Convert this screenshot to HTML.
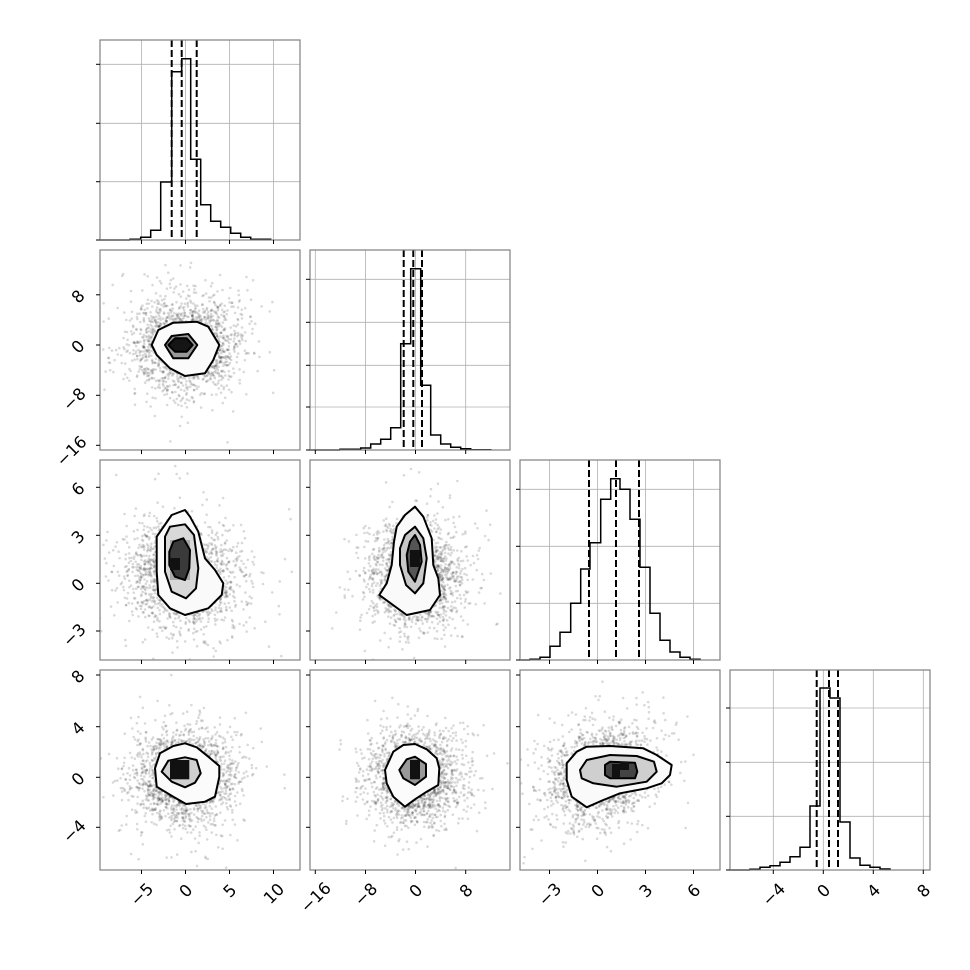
<!DOCTYPE html>
<html><head><meta charset="utf-8"><style>
html,body{margin:0;padding:0;background:#fff;}
svg{display:block;}
text{font-family:"DejaVu Sans","Liberation Sans",sans-serif;font-size:16.5px;fill:#000;}
</style></head><body>
<svg id="s" width="970" height="970" viewBox="0 0 970 970" xmlns="http://www.w3.org/2000/svg">
<defs>
<clipPath id="c10"><rect x="100" y="250" width="200" height="200"/></clipPath>
<clipPath id="c20"><rect x="100" y="460" width="200" height="200"/></clipPath>
<clipPath id="c21"><rect x="310" y="460" width="200" height="200"/></clipPath>
<clipPath id="c30"><rect x="100" y="670" width="200" height="200"/></clipPath>
<clipPath id="c31"><rect x="310" y="670" width="200" height="200"/></clipPath>
<clipPath id="c32"><rect x="520" y="670" width="200" height="200"/></clipPath>
</defs>
<g id="g"></g>
</svg>
<script>
(function(){
var out=[];
var seed=12345;
function rnd(){seed=(seed*1103515245+12345)%2147483648;return seed/2147483648;}
function norm(){var u=rnd()||1e-9,v=rnd();return Math.sqrt(-2*Math.log(u))*Math.cos(2*Math.PI*v);}
var colX=[100,310,520,730], rowY=[40,250,460,670];
var xt=[[141.5,185.5,229.5,273.5],[315.3,365.5,415.5,465.7],[549.5,597.5,645.5,693.5],[773.3,823.3,873.3,923.3]];
var xl=[["−5","0","5","10"],["−16","−8","0","8"],["−3","0","3","6"],["−4","0","4","8"]];
var yt2=[[],[294.8,345,395.3,445.3],[487.3,535.3,583.3,631],[675,726.7,777.3,827.3]];
var yl=[[],["8","0","−8","−16"],["6","3","0","−3"],["8","4","0","−4"]];
var dyt=[[64.3,123.3,181.7,240],[279.3,322.3,365.3,407,450],[489.3,546.3,603.3,660],[708,762.3,816.3,870]];
function w(s){var n=0;for(var i=0;i<s.length;i++)n+=(s[i]=="−"?11.7:8.9);return n;}
var sc=[["c10",185,345,28,25,0],["c20",183,575,30,28,0.1],["c21",415,575,25,28,0],["c30",185,777,28,25,0],["c31",415,777,25,25,0],["c32",600,775,28,25,-0.2]];
sc.forEach(function(p){
  var s='<g clip-path="url(#'+p[0]+')" fill="#000" fill-opacity="0.15">';
  for(var i=0;i<2000;i++){
    var k=rnd()<0.8?0.85:1.3;
    var a=norm(),b=norm();
    var x=p[1]+a*p[3]*k, y=p[2]+(b+p[5]*a)*p[4]*k;
    s+='<circle cx="'+x.toFixed(1)+'" cy="'+y.toFixed(1)+'" r="1.3"/>';
  }
  out.push(s+'</g>');
});
function poly(pts,fill){return '<polygon points="'+pts+'" fill="'+fill+'" stroke="#000" stroke-width="2" stroke-linejoin="round"/>';}
out.push(poly("151.7,345 158.3,330 173.3,322.7 196.7,321.7 208.3,326.7 219.3,345 213.3,360 205,373.3 185,376 170,368.3 156.7,355","#fbfbfb"));
out.push(poly("165,345 171.7,336 188.3,334 197.3,345 188.3,358.3 173.3,358.3","#999"));
out.push(poly("168.3,345 175,338.3 186.7,338.3 192.7,345 186.7,351.7 175,351.7","#151515"));
out.push(poly("156.7,536.7 171.7,515 185,510 190,516.7 198.3,531.7 205,558.3 215,570 223.3,583.3 221.7,595 208.3,608.3 185,615 170,608.3 158.3,595 156.7,571.7","#fafafa"));
out.push(poly("165,536.7 170,526.7 185,524.3 194,535 198.3,568.3 196,588.3 186,598.3 171.7,591.7 165,571.7","#d8d8d8"));
out.push('<rect x="170" y="540" width="20" height="40" fill="#aaa"/>');
out.push(poly("169.3,551.7 173.3,541.7 183.3,538.3 190,550 189.3,568.3 185,580 175,576.7 169.3,565","#3a3a3a"));
out.push('<rect x="170" y="558" width="10" height="12" fill="#111"/>');
out.push(poly("396.7,526.7 405,515 415,506.7 423.3,516.7 431.7,538.3 433.3,565 438.3,578.3 440,595 430,610 406.7,615 379.3,595 386.7,583.3 391.7,565 394,541.7","#fafafa"));
out.push(poly("400,548.3 405,535 415,526.7 423.3,538.3 426.7,558.3 423.3,583.3 415,593.3 406,585 400,565","#c8c8c8"));
out.push(poly("406.7,555 410,541.7 415,535 420,545 421.7,561.7 415,581.7 408.3,571.7","#555"));
out.push('<rect x="410" y="550" width="10" height="17" fill="#111"/>');
out.push(poly("155,768.3 160,753.3 173.3,746 185,743.3 196.7,747.3 208.3,756.7 219.3,766 219.3,776.7 215,796.7 205,801.7 186,804 173.3,796.7 156.7,786.7","#fbfbfb"));
out.push(poly("161.7,771.7 168.3,760.7 185,757.3 196.7,760 200.7,773.3 195,782.7 185,787.3 171.7,781.7","#d0d0d0"));
out.push('<rect x="170" y="760" width="19.3" height="19.3" fill="#111"/>');
out.push(poly("385,770 393.3,751.7 403.3,745 415,744 426.7,749.3 436.7,758.3 439.3,768.3 438.3,785 426.7,791.7 415,799.3 405,806.7 393.3,796.7 386.7,783.3","#fbfbfb"));
out.push(poly("399.3,770 406.7,759.3 415,756.7 426,764 426,776.7 415,785 403.3,778.3","#999"));
out.push('<rect x="410" y="760" width="10" height="19.3" fill="#111"/>');
out.push(poly("566.7,763.3 576.7,751.7 586.7,746.7 610,746 643.3,748.3 656.7,755 671.7,765 670,775 661.7,783.3 646.7,788.3 620,793.3 603.3,800 586.7,807.3 571.7,796.7 566.7,780","#fafafa"));
out.push(poly("580,770 586.7,760 610,755 636.7,756 654,761.7 656.7,771.7 646.7,781.7 616.7,786.7 593.3,783.3 581.7,778.3","#cfcfcf"));
out.push(poly("605,765 610,761.7 635,762.7 637.3,771.7 635,778.3 610,778.3 605,775","#444"));
out.push('<rect x="612" y="764" width="8" height="13" fill="#111"/><rect x="620" y="762" width="9" height="8" fill="#111"/>');
var H=[
 {e:[130,140.7,150.7,160.7,171.7,181.7,190.7,200.7,210.7,220.7,230.7,240.7,250.7,270.7],h:[239.3,237.3,230.3,182,71.7,58.7,159.3,204.7,221.3,227.3,233.3,237.3,239.3],d:[171.7,181.7,196.7],b:240},
 {e:[340,360.7,370.7,380.7,390.7,400.7,410.7,420.7,430.7,440.7,450.7,460.7,470.7,490.7],h:[449.3,448,444,439.3,427.7,343.7,268.7,385.3,435,444,447.3,448.7,449.7],d:[403.7,413.3,422],b:450},
 {e:[530,540,550,560,570.7,580.7,590,600.7,610.7,620,630,640,650,660,670,680,690,700],h:[659.3,657.3,646.3,632.3,603.3,569,542.7,499.3,478.7,489.3,519.3,567.3,613.3,640.3,652,657.3,659.3],d:[589,616,639],b:660},
 {e:[750,760,770,780,790,800,810,820,830,840,850,860,870,880,890],h:[869.3,867.3,865.7,862.3,856.7,847.3,806,688,698,822,858,865.3,867.3,869],d:[816.7,829,838],b:870}
];
for(var i=0;i<4;i++){
  var X=colX[i],Y=rowY[i],g='';
  xt[i].forEach(function(t){g+='<line x1="'+t+'" y1="'+Y+'" x2="'+t+'" y2="'+(Y+200)+'" stroke="#b0b0b0" stroke-width="0.8"/>';});
  dyt[i].forEach(function(t){g+='<line x1="'+X+'" y1="'+t+'" x2="'+(X+200)+'" y2="'+t+'" stroke="#b0b0b0" stroke-width="0.8"/>';});
  var hh=H[i],p='M'+hh.e[0]+','+hh.b;
  for(var j=0;j<hh.h.length;j++){p+=' L'+hh.e[j]+','+hh.h[j]+' L'+hh.e[j+1]+','+hh.h[j];}
  p+=' L'+hh.e[hh.e.length-1]+','+hh.b;
  g+='<path d="'+p+'" fill="none" stroke="#000" stroke-width="1.5"/>';
  g+='<line x1="'+X+'" y1="'+hh.b+'" x2="'+hh.e[0]+'" y2="'+hh.b+'" stroke="#000" stroke-width="1.5"/>';
  hh.d.forEach(function(d){g+='<line x1="'+d+'" y1="'+Y+'" x2="'+d+'" y2="'+(Y+200)+'" stroke="#000" stroke-width="2" stroke-dasharray="7,3"/>';});
  out.push(g);
}
for(var r=0;r<4;r++)for(var c=0;c<=r;c++){
  var X=colX[c],Y=rowY[r],g='<rect x="'+X+'" y="'+Y+'" width="200" height="200" fill="none" stroke="#808080" stroke-width="1.2"/>';
  xt[c].forEach(function(t){g+='<line x1="'+t+'" y1="'+(Y+200)+'" x2="'+t+'" y2="'+(Y+204)+'" stroke="#000" stroke-width="1"/>';});
  var yy=(r==c)?dyt[r]:yt2[r];
  yy.forEach(function(t){g+='<line x1="'+(X-4)+'" y1="'+t+'" x2="'+X+'" y2="'+t+'" stroke="#000" stroke-width="1"/>';});
  out.push(g);
}
for(var c=0;c<4;c++){xt[c].forEach(function(t,k){var s=xl[c][k],ww=w(s);var cx=t+0.5,cy=888+ww*0.32;
  out.push('<text x="'+cx+'" y="'+cy+'" text-anchor="middle" dominant-baseline="central" transform="rotate(-45 '+cx+' '+cy+')">'+s+'</text>');});}
for(var r=1;r<4;r++){yt2[r].forEach(function(t,k){var s=yl[r][k],ww=w(s);var cx=81-ww*0.32,cy=t+ww*0.2;
  out.push('<text x="'+cx+'" y="'+cy+'" text-anchor="middle" dominant-baseline="central" transform="rotate(-45 '+cx+' '+cy+')">'+s+'</text>');});}
document.getElementById('g').innerHTML=out.join('');
})();
</script>
</body></html>
